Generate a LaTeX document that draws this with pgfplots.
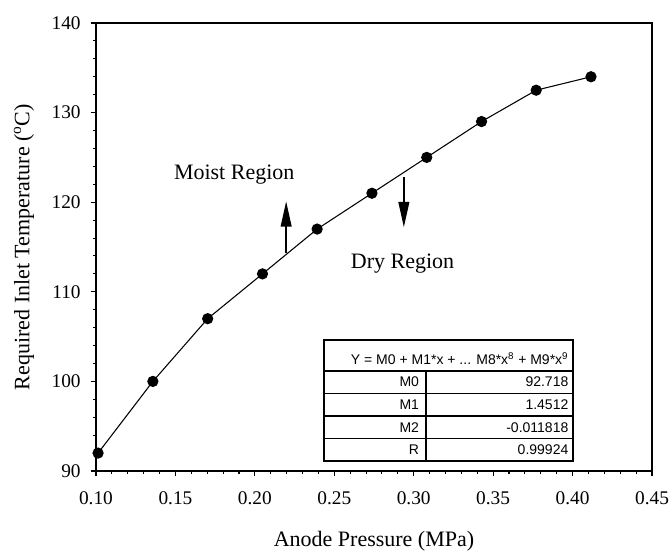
\documentclass[border=0pt]{standalone}
\usepackage{pgfplots}
\pgfplotsset{compat=1.18}
\usepackage{fontspec}
\setmainfont{Liberation Serif}
\newfontfamily\arial{Liberation Sans}
\usetikzlibrary{arrows.meta}
\begin{document}
\begin{tikzpicture}
\begin{axis}[
  scale only axis,
  width=417pt, height=336pt,
  xmin=0.1, xmax=0.45, ymin=90, ymax=140,
  xtick={0.1,0.15,...,0.45}, ytick={90,100,...,140},
  minor x tick num=4, minor y tick num=4,
  xtick pos=bottom, ytick pos=left,
  tick align=outside,
  major tick length=4pt, minor tick length=2.3pt,
  tick style={black, line width=0.8pt},
  axis line style={line width=0.8pt},
  /pgf/number format/assume math mode=true,
  xticklabel style={/pgf/number format/fixed, /pgf/number format/fixed zerofill, /pgf/number format/precision=2, font=\fontsize{14.5}{17}\selectfont, yshift=-8pt},
  yticklabel style={font=\fontsize{14.5}{17}\selectfont, xshift=-4pt},
  xlabel={Anode Pressure (MPa)},
  ylabel={Required Inlet Temperature (\textsuperscript{o}C)},
  label style={font=\fontsize{16.5}{19}\selectfont},
  xlabel style={at={(axis description cs:0.5,0)}, anchor=center, yshift=-53pt},
  ylabel style={at={(axis description cs:0,0.5)}, anchor=center, xshift=0pt, yshift=54pt},
  clip=false,
]
\addplot[black, line width=0.8pt, mark=*, mark size=3.8pt] coordinates {
(0.1013,92) (0.1358,100) (0.1703,107) (0.2048,112) (0.2392,117)
(0.2737,121) (0.3082,125) (0.3427,129) (0.3771,132.5) (0.4116,134)
};
% arrows
\draw[line width=1.4pt, -{Triangle[length=19pt,width=8pt]}] (axis cs:0.2197,114.3) -- (axis cs:0.2197,120.1);
\draw[line width=1.4pt, -{Triangle[length=19pt,width=8pt]}] (axis cs:0.2938,122.8) -- (axis cs:0.2938,117.2);
\node[font=\fontsize{16.5}{19}\selectfont] at (axis cs:0.187,123.1) {Moist Region};
\node[font=\fontsize{16.5}{19}\selectfont] at (axis cs:0.293,113.1) {Dry Region};
% table
\fill[white] (axis cs:0.2435,91.1) rectangle (axis cs:0.4003,104.6);
\draw[line width=1.3pt] (axis cs:0.2435,91.1) rectangle (axis cs:0.4003,104.6);
\draw[line width=1.3pt] (axis cs:0.2435,101.2) -- (axis cs:0.4003,101.2);
\draw[line width=1.1pt] (axis cs:0.2435,98.67) -- (axis cs:0.4003,98.67);
\draw[line width=1.1pt] (axis cs:0.2435,96.14) -- (axis cs:0.4003,96.14);
\draw[line width=1.1pt] (axis cs:0.2435,93.61) -- (axis cs:0.4003,93.61);
\draw[line width=1.3pt] (axis cs:0.3077,101.2) -- (axis cs:0.3077,91.1);
\node[anchor=east, inner sep=0pt, font=\arial\fontsize{10.5}{12}\selectfont] at (axis cs:0.3975,102.55) {Y = M0 + M1*x + ... M8*x\textsuperscript{8} + M9*x\textsuperscript{9}};
\node[anchor=east, inner sep=0pt, font=\arial\fontsize{10.5}{12}\selectfont] at (axis cs:0.3035,99.94) {M0};
\node[anchor=east, inner sep=0pt, font=\arial\fontsize{10.5}{12}\selectfont] at (axis cs:0.3975,99.94) {92.718};
\node[anchor=east, inner sep=0pt, font=\arial\fontsize{10.5}{12}\selectfont] at (axis cs:0.3035,97.40) {M1};
\node[anchor=east, inner sep=0pt, font=\arial\fontsize{10.5}{12}\selectfont] at (axis cs:0.3975,97.40) {1.4512};
\node[anchor=east, inner sep=0pt, font=\arial\fontsize{10.5}{12}\selectfont] at (axis cs:0.3035,94.87) {M2};
\node[anchor=east, inner sep=0pt, font=\arial\fontsize{10.5}{12}\selectfont] at (axis cs:0.3975,94.87) {-0.011818};
\node[anchor=east, inner sep=0pt, font=\arial\fontsize{10.5}{12}\selectfont] at (axis cs:0.3035,92.34) {R};
\node[anchor=east, inner sep=0pt, font=\arial\fontsize{10.5}{12}\selectfont] at (axis cs:0.3975,92.34) {0.99924};
\end{axis}
\pgfresetboundingbox
\path[use as bounding box] (-72pt,-60pt) rectangle (431.25pt,353.25pt);
\end{tikzpicture}
\end{document}
